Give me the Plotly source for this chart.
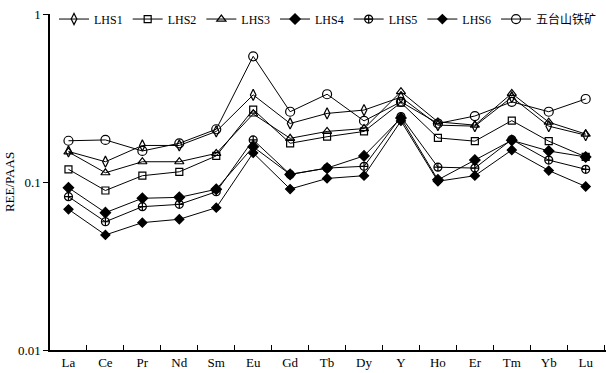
import plotly.graph_objects as go

elements = ["La", "Ce", "Pr", "Nd", "Sm", "Eu", "Gd", "Tb", "Dy", "Y", "Ho", "Er", "Tm", "Yb", "Lu"]

LHS1 = [0.152, 0.132, 0.165, 0.165, 0.200, 0.330, 0.223, 0.256, 0.268, 0.320, 0.218, 0.215, 0.320, 0.215, 0.190]
LHS2 = [0.119, 0.089, 0.109, 0.115, 0.143, 0.270, 0.170, 0.186, 0.200, 0.297, 0.183, 0.175, 0.232, 0.175, 0.141]
LHS3 = [0.151, 0.1135, 0.132, 0.132, 0.148, 0.254, 0.182, 0.200, 0.208, 0.345, 0.228, 0.218, 0.337, 0.227, 0.193]
LHS4 = [0.0925, 0.0657, 0.080, 0.081, 0.0905, 0.162, 0.111, 0.121, 0.143, 0.240, 0.103, 0.135, 0.177, 0.153, 0.141]
LHS5 = [0.0818, 0.058, 0.0713, 0.0736, 0.0875, 0.178, 0.111, 0.121, 0.124, 0.245, 0.1225, 0.121, 0.179, 0.135, 0.119]
LHS6 = [0.0688, 0.0484, 0.0573, 0.060, 0.0703, 0.149, 0.0908, 0.105, 0.109, 0.231, 0.101, 0.109, 0.155, 0.117, 0.094]
WTS = [0.176, 0.178, 0.153, 0.170, 0.206, 0.560, 0.262, 0.333, 0.231, 0.300, 0.223, 0.247, 0.300, 0.262, 0.312]

series = [
    ("LHS1", LHS1, "diamond-tall-open", 8),
    ("LHS2", LHS2, "square-open", 7),
    ("LHS3", LHS3, "triangle-up-open", 8),
    ("LHS4", LHS4, "diamond", 8),
    ("LHS5", LHS5, "circle-cross-open", 8),
    ("LHS6", LHS6, "diamond", 7),
    ("五台山铁矿", WTS, "circle-open", 9),
]

fig = go.Figure()
for name, vals, sym, sz in series:
    fig.add_trace(go.Scatter(
        x=elements, y=vals, name=name, mode="lines+markers",
        line=dict(color="black", width=1),
        marker=dict(symbol=sym, size=sz, color="black",
                    line=dict(color="black", width=1.2)),
    ))

font = "Times New Roman, Liberation Serif, Noto Sans CJK SC, serif"
fig.update_layout(
    width=606, height=373,
    margin=dict(l=50, r=0, t=14, b=23),
    plot_bgcolor="white", paper_bgcolor="white",
    font=dict(family=font, size=13, color="black"),
    showlegend=True,
    legend=dict(orientation="h", x=0.5, xanchor="center", y=0.985, yanchor="middle",
                font=dict(family=font, size=12), itemwidth=30,
                bgcolor="rgba(0,0,0,0)", tracegroupgap=0),
)
fig.update_xaxes(
    type="category", range=[-0.5, 14.55],
    showline=True, linecolor="black", linewidth=1.5,
    ticks="inside", tickson="boundaries", ticklen=5, tickcolor="black",
    showgrid=False, zeroline=False,
    tickfont=dict(family=font, size=13),
)
fig.update_yaxes(
    type="log", range=[-2, 0],
    tickvals=[0.01, 0.1, 1], ticktext=["0.01", "0.1", "1"],
    showline=True, linecolor="black", linewidth=1.5,
    ticks="outside", ticklen=5, tickcolor="black",
    showgrid=False, zeroline=False,
    title=dict(text="REE/PAAS", font=dict(family=font, size=13), standoff=0),
    tickfont=dict(family=font, size=13),
)
fig.write_html("out.html")
